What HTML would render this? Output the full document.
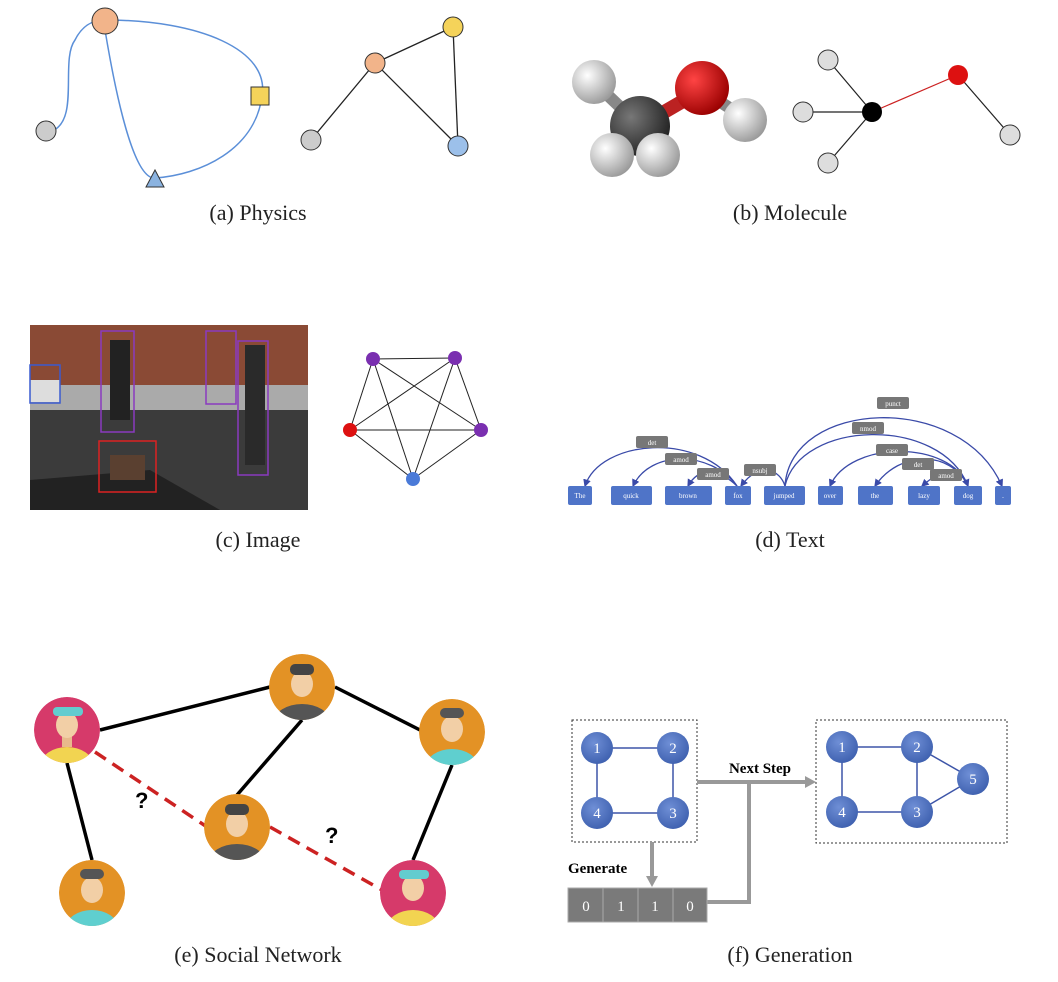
<!DOCTYPE html>
<html><head><meta charset="utf-8"><style>
body{margin:0;background:#fff}
svg{display:block}
.cap{font-family:"Liberation Serif",serif;font-size:22px;fill:#222}
.w{font-family:"Liberation Serif",serif;font-size:7px;fill:#fff;text-anchor:middle}
.lb{font-family:"Liberation Serif",serif;font-size:7px;fill:#fff;text-anchor:middle}
.n{font-family:"Liberation Serif",serif;font-size:15px;fill:#fff;text-anchor:middle}
</style></head><body>
<svg width="1058" height="982" viewBox="0 0 1058 982" xmlns="http://www.w3.org/2000/svg">
<defs>
<radialGradient id="gw" cx="35%" cy="35%" r="70%"><stop offset="0" stop-color="#fff"/><stop offset="1" stop-color="#999"/></radialGradient>
<radialGradient id="gr" cx="35%" cy="35%" r="70%"><stop offset="0" stop-color="#f44"/><stop offset="1" stop-color="#900"/></radialGradient>
<radialGradient id="gk" cx="35%" cy="35%" r="70%"><stop offset="0" stop-color="#777"/><stop offset="1" stop-color="#222"/></radialGradient>
<radialGradient id="gb" cx="40%" cy="35%" r="70%"><stop offset="0" stop-color="#6f8fd6"/><stop offset="1" stop-color="#3d5fae"/></radialGradient>
<marker id="ah" markerWidth="6" markerHeight="6" refX="5" refY="3" orient="auto"><path d="M0,0L6,3L0,6z" fill="#3a4aa8"/></marker>
<clipPath id="c1"><circle cx="67" cy="730" r="33"/></clipPath>
<clipPath id="c2"><circle cx="302" cy="687" r="33"/></clipPath>
<clipPath id="c3"><circle cx="452" cy="732" r="33"/></clipPath>
<clipPath id="c4"><circle cx="237" cy="827" r="33"/></clipPath>
<clipPath id="c5"><circle cx="92" cy="893" r="33"/></clipPath>
<clipPath id="c6"><circle cx="413" cy="893" r="33"/></clipPath>
</defs>
<!-- (a) -->
<path d="M52,131 C80,120 60,60 75,40 C85,20 100,20 105,20 C200,20 270,50 262,96 C255,150 200,175 155,178 C130,180 110,60 105,30" fill="none" stroke="#5b8fd8" stroke-width="1.5"/>
<circle cx="105" cy="21" r="13" fill="#f2b48a" stroke="#333"/>
<circle cx="46" cy="131" r="10" fill="#ccc" stroke="#333"/>
<rect x="251" y="87" width="18" height="18" fill="#f5d35a" stroke="#333"/>
<path d="M146,187L155,170L164,187z" fill="#8bb3e0" stroke="#333"/>
<g stroke="#222" stroke-width="1.3"><line x1="375" y1="63" x2="453" y2="27"/><line x1="375" y1="63" x2="311" y2="140"/><line x1="375" y1="63" x2="458" y2="146"/><line x1="453" y1="27" x2="458" y2="146"/></g>
<circle cx="375" cy="63" r="10" fill="#f2b48a" stroke="#333"/>
<circle cx="453" cy="27" r="10" fill="#f5d35a" stroke="#333"/>
<circle cx="311" cy="140" r="10" fill="#ccc" stroke="#333"/>
<circle cx="458" cy="146" r="10" fill="#9cc0ea" stroke="#333"/>
<text class="cap" x="258" y="220" text-anchor="middle">(a)  Physics</text>
<!-- (b) -->
<g stroke="#888" stroke-width="12"><line x1="596" y1="84" x2="640" y2="126"/><line x1="702" y1="90" x2="745" y2="118"/></g>
<circle cx="594" cy="82" r="22" fill="url(#gw)"/>
<line x1="640" y1="126" x2="702" y2="90" stroke="#b22" stroke-width="14"/>
<circle cx="745" cy="120" r="22" fill="url(#gw)"/>
<circle cx="640" cy="126" r="30" fill="url(#gk)"/>
<circle cx="702" cy="88" r="27" fill="url(#gr)"/>
<circle cx="612" cy="155" r="22" fill="url(#gw)"/>
<circle cx="658" cy="155" r="22" fill="url(#gw)"/>
<g stroke="#222" stroke-width="1.2"><line x1="872" y1="112" x2="803" y2="112"/><line x1="872" y1="112" x2="828" y2="60"/><line x1="872" y1="112" x2="828" y2="163"/><line x1="958" y1="75" x2="1010" y2="135"/></g>
<line x1="872" y1="112" x2="958" y2="75" stroke="#c22" stroke-width="1.2"/>
<circle cx="803" cy="112" r="10" fill="#ddd" stroke="#333"/>
<circle cx="828" cy="60" r="10" fill="#ddd" stroke="#333"/>
<circle cx="828" cy="163" r="10" fill="#ddd" stroke="#333"/>
<circle cx="1010" cy="135" r="10" fill="#ddd" stroke="#333"/>
<circle cx="872" cy="112" r="10" fill="#000"/>
<circle cx="958" cy="75" r="10" fill="#d11"/>
<text class="cap" x="790" y="220" text-anchor="middle">(b)  Molecule</text>
<!-- (c) photo -->
<rect x="30" y="325" width="278" height="185" fill="#555"/>
<rect x="30" y="325" width="278" height="60" fill="#8a4a35"/>
<rect x="30" y="385" width="278" height="25" fill="#aaa"/>
<rect x="30" y="410" width="278" height="100" fill="#3b3b3b"/>
<polygon points="30,480 150,470 220,510 30,510" fill="#222"/>
<rect x="30" y="380" width="30" height="22" fill="#ddd"/>
<rect x="110" y="340" width="20" height="80" fill="#222"/>
<rect x="245" y="345" width="20" height="120" fill="#2a2a2a"/>
<rect x="110" y="455" width="35" height="25" fill="#5a4030"/>
<rect x="30" y="365" width="30" height="38" fill="none" stroke="#3a5bd0" stroke-width="1.5"/>
<rect x="101" y="331" width="33" height="101" fill="none" stroke="#8a3ac0" stroke-width="1.5"/>
<rect x="206" y="331" width="30" height="73" fill="none" stroke="#8a3ac0" stroke-width="1.5"/>
<rect x="238" y="341" width="30" height="134" fill="none" stroke="#8a3ac0" stroke-width="1.5"/>
<rect x="99" y="441" width="57" height="51" fill="none" stroke="#d22" stroke-width="1.5"/>
<g stroke="#222" stroke-width="1"><line x1="373" y1="359" x2="455" y2="358"/><line x1="373" y1="359" x2="350" y2="430"/><line x1="373" y1="359" x2="481" y2="430"/><line x1="373" y1="359" x2="413" y2="479"/><line x1="455" y1="358" x2="350" y2="430"/><line x1="455" y1="358" x2="481" y2="430"/><line x1="455" y1="358" x2="413" y2="479"/><line x1="350" y1="430" x2="481" y2="430"/><line x1="350" y1="430" x2="413" y2="479"/><line x1="481" y1="430" x2="413" y2="479"/></g>
<circle cx="373" cy="359" r="7" fill="#7a2fb0"/><circle cx="455" cy="358" r="7" fill="#7a2fb0"/><circle cx="481" cy="430" r="7" fill="#7a2fb0"/><circle cx="350" cy="430" r="7" fill="#d11"/><circle cx="413" cy="479" r="7" fill="#4a7ad8"/>
<text class="cap" x="258" y="547" text-anchor="middle">(c)  Image</text>
<!-- (d) -->
<g fill="none" stroke="#3a4aa8" stroke-width="1.3" marker-end="url(#ah)">
<path d="M737,486 C700,430 600,440 585,486"/>
<path d="M737,486 C710,450 650,450 633,486"/>
<path d="M737,486 C720,470 700,465 688,486"/>
<path d="M785,486 C780,470 760,460 741,486"/>
<path d="M785,486 C790,400 960,390 1002,486"/>
<path d="M785,486 C800,420 940,415 968,486"/>
<path d="M968,486 C950,440 850,440 830,486"/>
<path d="M968,486 C950,450 900,450 875,486"/>
<path d="M968,486 C960,465 940,470 922,486"/>
</g>
<g fill="#777">
<rect x="636" y="436" width="32" height="12" rx="2"/><rect x="665" y="453" width="32" height="12" rx="2"/><rect x="697" y="468" width="32" height="12" rx="2"/><rect x="744" y="464" width="32" height="12" rx="2"/>
<rect x="877" y="397" width="32" height="12" rx="2"/><rect x="852" y="422" width="32" height="12" rx="2"/><rect x="876" y="444" width="32" height="12" rx="2"/><rect x="902" y="458" width="32" height="12" rx="2"/><rect x="930" y="469" width="32" height="12" rx="2"/>
</g>
<g class="lb"><text x="652" y="445">det</text><text x="681" y="462">amod</text><text x="713" y="477">amod</text><text x="760" y="473">nsubj</text><text x="893" y="406">punct</text><text x="868" y="431">nmod</text><text x="892" y="453">case</text><text x="918" y="467">det</text><text x="946" y="478">amod</text></g>
<g fill="#4f74c8">
<rect x="568" y="486" width="24" height="19" rx="2"/><rect x="611" y="486" width="41" height="19" rx="2"/><rect x="665" y="486" width="47" height="19" rx="2"/><rect x="725" y="486" width="26" height="19" rx="2"/><rect x="764" y="486" width="41" height="19" rx="2"/><rect x="818" y="486" width="25" height="19" rx="2"/><rect x="858" y="486" width="35" height="19" rx="2"/><rect x="908" y="486" width="32" height="19" rx="2"/><rect x="954" y="486" width="28" height="19" rx="2"/><rect x="995" y="486" width="16" height="19" rx="2"/>
</g>
<g class="w"><text x="580" y="498">The</text><text x="631" y="498">quick</text><text x="688" y="498">brown</text><text x="738" y="498">fox</text><text x="784" y="498">jumped</text><text x="830" y="498">over</text><text x="875" y="498">the</text><text x="924" y="498">lazy</text><text x="968" y="498">dog</text><text x="1003" y="498">.</text></g>
<text class="cap" x="790" y="547" text-anchor="middle">(d)  Text</text>
<!-- (e) -->
<g stroke="#000" stroke-width="3.5"><line x1="100" y1="730" x2="270" y2="687"/><line x1="335" y1="687" x2="420" y2="730"/><line x1="302" y1="720" x2="237" y2="795"/><line x1="67" y1="763" x2="92" y2="860"/><line x1="452" y1="765" x2="413" y2="860"/></g>
<g stroke="#c22" stroke-width="3.5" stroke-dasharray="13,8"><line x1="95" y1="752" x2="207" y2="827"/><line x1="270" y1="827" x2="382" y2="890"/></g>
<text x="135" y="808" font-family="Liberation Sans,sans-serif" font-weight="bold" font-size="22">?</text>
<text x="325" y="843" font-family="Liberation Sans,sans-serif" font-weight="bold" font-size="22">?</text>
<g clip-path="url(#c1)"><circle cx="67" cy="730" r="33" fill="#d63a6a"/><ellipse cx="67" cy="765" rx="26" ry="18" fill="#f2d451"/><rect x="62" y="735" width="10" height="12" fill="#e8b98c"/><ellipse cx="67" cy="725" rx="11" ry="13" fill="#f2cfa6"/><rect x="53" y="707" width="30" height="9" rx="4" fill="#63cccf"/></g>
<g clip-path="url(#c2)"><circle cx="302" cy="687" r="33" fill="#e39225"/><ellipse cx="302" cy="722" rx="28" ry="18" fill="#555"/><ellipse cx="302" cy="684" rx="11" ry="13" fill="#f2cfa6"/><rect x="290" y="664" width="24" height="11" rx="5" fill="#444"/></g>
<g clip-path="url(#c3)"><circle cx="452" cy="732" r="33" fill="#e39225"/><ellipse cx="452" cy="767" rx="26" ry="18" fill="#5fcfcf"/><ellipse cx="452" cy="729" rx="11" ry="13" fill="#f2cfa6"/><rect x="440" y="708" width="24" height="10" rx="5" fill="#555"/></g>
<g clip-path="url(#c4)"><circle cx="237" cy="827" r="33" fill="#e39225"/><ellipse cx="237" cy="862" rx="28" ry="18" fill="#555"/><ellipse cx="237" cy="824" rx="11" ry="13" fill="#f2cfa6"/><rect x="225" y="804" width="24" height="11" rx="5" fill="#444"/></g>
<g clip-path="url(#c5)"><circle cx="92" cy="893" r="33" fill="#e39225"/><ellipse cx="92" cy="928" rx="26" ry="18" fill="#5fcfcf"/><ellipse cx="92" cy="890" rx="11" ry="13" fill="#f2cfa6"/><rect x="80" y="869" width="24" height="10" rx="5" fill="#555"/></g>
<g clip-path="url(#c6)"><circle cx="413" cy="893" r="33" fill="#d63a6a"/><ellipse cx="413" cy="928" rx="26" ry="18" fill="#f2d451"/><ellipse cx="413" cy="888" rx="11" ry="13" fill="#f2cfa6"/><rect x="399" y="870" width="30" height="9" rx="4" fill="#63cccf"/></g>
<text class="cap" x="258" y="962" text-anchor="middle">(e)  Social Network</text>
<!-- (f) -->
<rect x="572" y="720" width="125" height="122" fill="none" stroke="#333" stroke-dasharray="2,2"/>
<rect x="816" y="720" width="191" height="123" fill="none" stroke="#333" stroke-dasharray="2,2"/>
<g stroke="#3d55a8" stroke-width="1.5"><path d="M597,748H673V813H597Z" fill="none"/><path d="M842,747H917V812H842Z" fill="none"/><line x1="917" y1="747" x2="973" y2="779"/><line x1="917" y1="812" x2="973" y2="779"/></g>
<g fill="url(#gb)"><circle cx="597" cy="748" r="16"/><circle cx="673" cy="748" r="16"/><circle cx="597" cy="813" r="16"/><circle cx="673" cy="813" r="16"/><circle cx="842" cy="747" r="16"/><circle cx="917" cy="747" r="16"/><circle cx="842" cy="812" r="16"/><circle cx="917" cy="812" r="16"/><circle cx="973" cy="779" r="16"/></g>
<g class="n"><text x="597" y="753">1</text><text x="673" y="753">2</text><text x="597" y="818">4</text><text x="673" y="818">3</text><text x="842" y="752">1</text><text x="917" y="752">2</text><text x="842" y="817">4</text><text x="917" y="817">3</text><text x="973" y="784">5</text></g>
<g stroke="#999" stroke-width="4" fill="none"><line x1="697" y1="782" x2="806" y2="782"/><line x1="652" y1="842" x2="652" y2="877"/><polyline points="707,902 749,902 749,782"/></g>
<path d="M805,776L816,782L805,788z" fill="#999"/><path d="M646,876L652,887L658,876z" fill="#999"/>
<text x="760" y="773" text-anchor="middle" font-family="Liberation Serif,serif" font-weight="bold" font-size="15">Next Step</text>
<text x="568" y="873" font-family="Liberation Serif,serif" font-weight="bold" font-size="15">Generate</text>
<g fill="#7a7a7a" stroke="#aaa"><rect x="568" y="888" width="35" height="34"/><rect x="603" y="888" width="35" height="34"/><rect x="638" y="888" width="35" height="34"/><rect x="673" y="888" width="34" height="34"/></g>
<g class="n" fill="#eee"><text x="586" y="911">0</text><text x="621" y="911">1</text><text x="655" y="911">1</text><text x="690" y="911">0</text></g>
<text class="cap" x="790" y="962" text-anchor="middle">(f)  Generation</text>
</svg>
</body></html>
